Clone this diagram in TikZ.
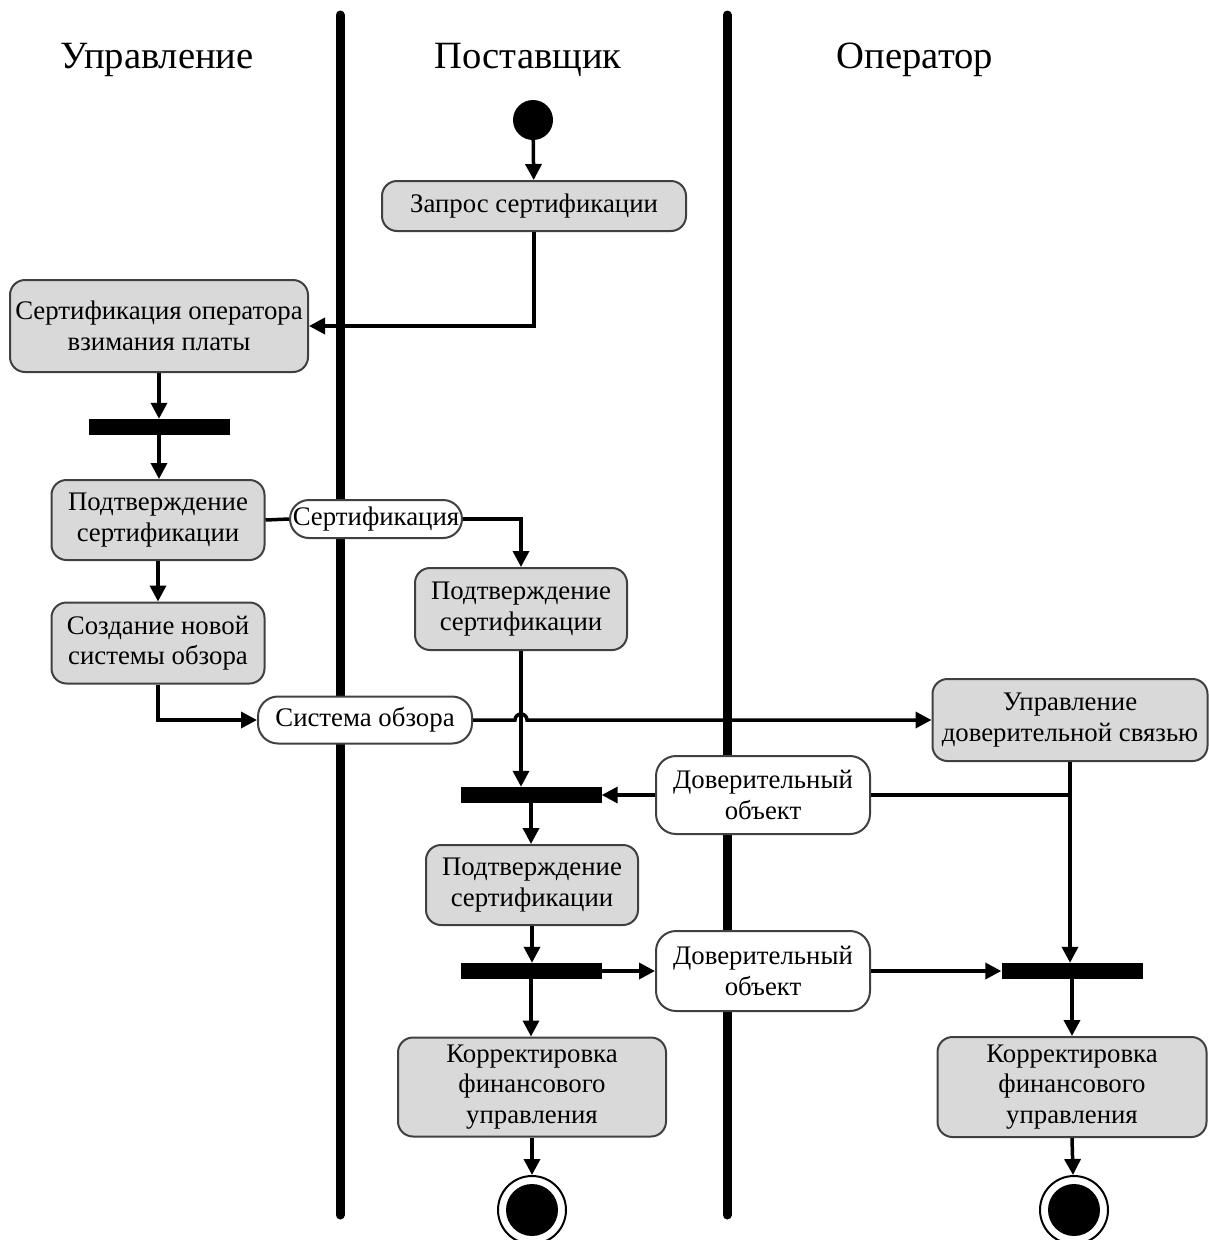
\documentclass[tikz,border=0pt]{standalone}
\usepackage{fontspec}
\setmainfont{Liberation Serif}
\usetikzlibrary{arrows.meta,calc}
\definecolor{boxline}{HTML}{404040}
\definecolor{actfill}{HTML}{D9D9D9}
\begin{document}
\begin{tikzpicture}[x=1pt,y=-1pt,
  txt/.style={font=\fontsize{26.8}{30.5}\selectfont, align=center, inner sep=0pt},
  action/.style={txt, draw=boxline, fill=actfill, line width=2pt, rounded corners=15pt},
  object/.style={txt, draw=boxline, fill=white, line width=2pt, rounded corners=20pt},
  bar/.style={fill=black, minimum width=141pt, minimum height=16pt, inner sep=0pt},
  flow/.style={line width=3.5pt},
  arr/.style={flow, -{Triangle[length=16pt,width=16pt]}},
  lane/.style={line width=9pt, line cap=round},
  lanetitle/.style={font=\fontsize{38.6}{44}\selectfont, inner sep=0pt},
  initial/.style={circle, fill=black, minimum size=40pt, inner sep=0pt},
  final/.style={circle, draw=black, line width=2pt, fill=white, minimum size=68pt, inner sep=0pt,
    path picture={\fill[black] (path picture bounding box.center) circle (26pt);}}
]
\useasboundingbox (0,0) rectangle (1209,1240);
\clip (0,0) rectangle (1209,1240);

% swimlane separators
\draw[lane] (340,15) -- (340,1215);
\draw[lane] (727,15) -- (727,1215);

% lane headings
\node[lanetitle] (t1) at (157,60) {Управление};
\node[lanetitle] (t2) at (528,60) {Поставщик};
\node[lanetitle] (t3) at (915,60) {Оператор};

% activities
\node[initial] (init) at (533,120) {};
\node[action, minimum width=304pt, minimum height=50pt] (req) at (534,206) {Запрос сертификации};
\node[action, minimum width=298pt, minimum height=92pt] (certop) at (159,326) {Сертификация оператора\\взимания платы};
\node[bar] (bar1) at (159,427) {};
\node[action, minimum width=213pt, minimum height=80pt] (conf1) at (158,520) {Подтверждение\\сертификации};
\node[object, minimum width=172pt, minimum height=38pt, rounded corners=19pt] (obj1) at (376,519) {Сертификация};
\node[action, minimum width=212pt, minimum height=82pt] (conf2) at (521,609) {Подтверждение\\сертификации};
\node[action, minimum width=213pt, minimum height=81pt] (newsys) at (158,643) {Создание новой\\системы обзора};
\node[object, minimum width=214pt, minimum height=47pt] (obj2) at (365,720) {Система обзора};
\node[action, minimum width=275pt, minimum height=82pt] (trust) at (1070,720) {Управление\\доверительной связью};
\node[bar] (bar2) at (531,795) {};
\node[object, minimum width=214pt, minimum height=78pt] (obj3) at (763,795) {Доверительный\\объект};
\node[action, minimum width=212pt, minimum height=80pt] (conf3) at (532,885) {Подтверждение\\сертификации};
\node[bar] (bar3) at (531,971) {};
\node[object, minimum width=214pt, minimum height=80pt] (obj4) at (763,971) {Доверительный\\объект};
\node[bar] (bar4) at (1072,971) {};
\node[action, minimum width=268pt, minimum height=99pt] (fin1) at (532,1087) {Корректировка\\финансового\\управления};
\node[action, minimum width=269pt, minimum height=100pt] (fin2) at (1072,1087) {Корректировка\\финансового\\управления};
\node[final] (end1) at (532,1210) {};
\node[final] (end2) at (1074,1210) {};

% flows
\draw[arr] (init) -- (req);
\draw[arr] (req.south) |- (certop.east);
\draw[arr] (certop.south) -- (certop.south |- bar1.north);
\draw[arr] (bar1.south) -- (bar1.south |- conf1.north);
\draw[flow] (conf1.east) -- (obj1.west);
\draw[arr] (obj1.east) -| (conf2.north);
\draw[arr] (conf1.south) -- (conf1.south |- newsys.north);
\draw[arr] (newsys.south) |- (obj2.west);
\draw[arr] (conf2.south) -- (conf2.south |- bar2.north);
\draw[arr] (obj2.east) -- ($(conf2.south |- obj2.east)+(-6,0)$)
  arc[start angle=180, end angle=0, radius=6pt] -- (trust.west);
\draw[flow] (trust.south) |- (obj3.east);
\draw[arr] (obj3.west) -- (bar2.east);
\draw[arr] (trust.south) -- (trust.south |- bar4.north);
\draw[arr] (bar2.south) -- (bar2.south |- conf3.north);
\draw[arr] (conf3.south) -- (conf3.south |- bar3.north);
\draw[arr] (bar3.east) -- (obj4.west);
\draw[arr] (obj4.east) -- (bar4.west);
\draw[arr] (bar3.south) -- (bar3.south |- fin1.north);
\draw[arr] (fin1.south) -- (end1);
\draw[arr] (bar4.south) -- (bar4.south |- fin2.north);
\draw[arr] (fin2.south) -- (end2);
\end{tikzpicture}
\end{document}
